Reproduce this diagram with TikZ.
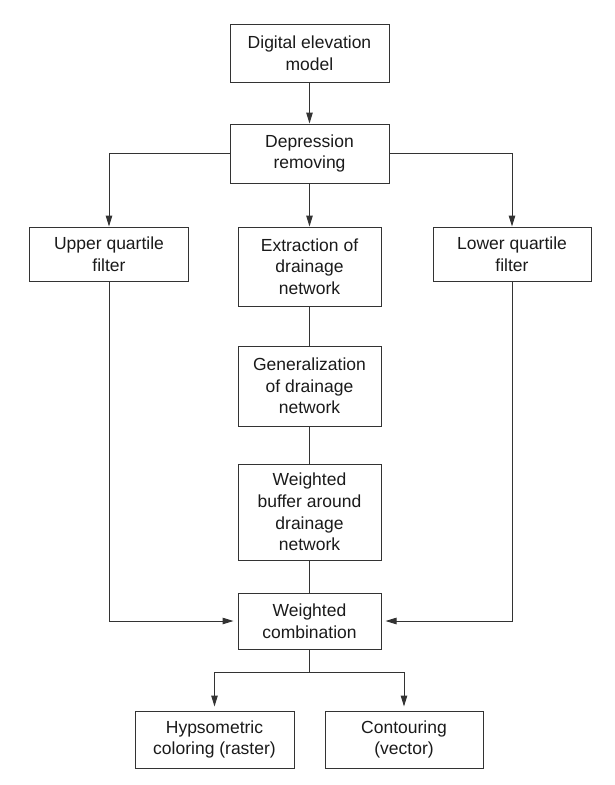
\documentclass[tikz,border=0pt]{standalone}
\usepackage{fontspec}
\setmainfont{Liberation Sans}
\usetikzlibrary{arrows.meta,positioning}
\definecolor{linec}{HTML}{333333}
\definecolor{textc}{HTML}{1A1A1A}
\begin{document}
\begin{tikzpicture}[x=1pt,y=-1pt,
  box/.style={draw=linec,line width=1pt,rectangle,inner sep=0pt,align=center,
    text=textc,font=\fontsize{17.5}{21.7}\selectfont},
  conn/.style={draw=linec,line width=1pt},
  arr/.style={conn,-{Triangle[length=11pt,width=6.5pt]}}]
\useasboundingbox (0,0) rectangle (614,785);
\node[box,minimum width=159pt,minimum height=58pt] (dem) at (309.5,53) {Digital elevation\\model};
\node[box,minimum width=159pt,minimum height=59pt] (dep) at (309.5,153.5) {Depression\\removing};
\node[box,minimum width=158.5pt,minimum height=54pt] (upper) at (109,254) {Upper quartile\\filter};
\node[box,minimum width=143pt,minimum height=79pt] (ext) at (309.5,266.5) {Extraction of\\drainage\\network};
\node[box,minimum width=158pt,minimum height=54pt] (lower) at (512,254) {Lower quartile\\filter};
\node[box,minimum width=143pt,minimum height=80pt] (gen) at (309.5,386) {Generalization\\of drainage\\network};
\node[box,minimum width=143pt,minimum height=96pt] (buf) at (309.5,512) {Weighted\\buffer around\\drainage\\network};
\node[box,minimum width=143pt,minimum height=56pt] (comb) at (309.5,621) {Weighted\\combination};
\node[box,minimum width=159pt,minimum height=57pt] (hyp) at (214.5,739.5) {Hypsometric\\coloring (raster)};
\node[box,minimum width=158pt,minimum height=57pt] (cont) at (404,739.5) {Contouring\\(vector)};
\coordinate (split) at (309.5,672);
\draw[arr] (dem.south) -- (dep.north);
\draw[arr] (dep.west) -| (upper.north);
\draw[arr] (dep.east) -| (lower.north);
\draw[arr] (dep.south) -- (ext.north);
\draw[conn] (ext.south) -- (gen.north);
\draw[conn] (gen.south) -- (buf.north);
\draw[conn] (buf.south) -- (comb.north);
\draw[arr,shorten >=4pt] (upper.south) |- (comb.west);
\draw[arr,shorten >=4pt] (lower.south) |- (comb.east);
\draw[conn] (comb.south) -- (split);
\draw[arr,shorten >=4pt] (split) -| (hyp.north);
\draw[arr,shorten >=4pt] (split) -| (cont.north);
\end{tikzpicture}
\end{document}
